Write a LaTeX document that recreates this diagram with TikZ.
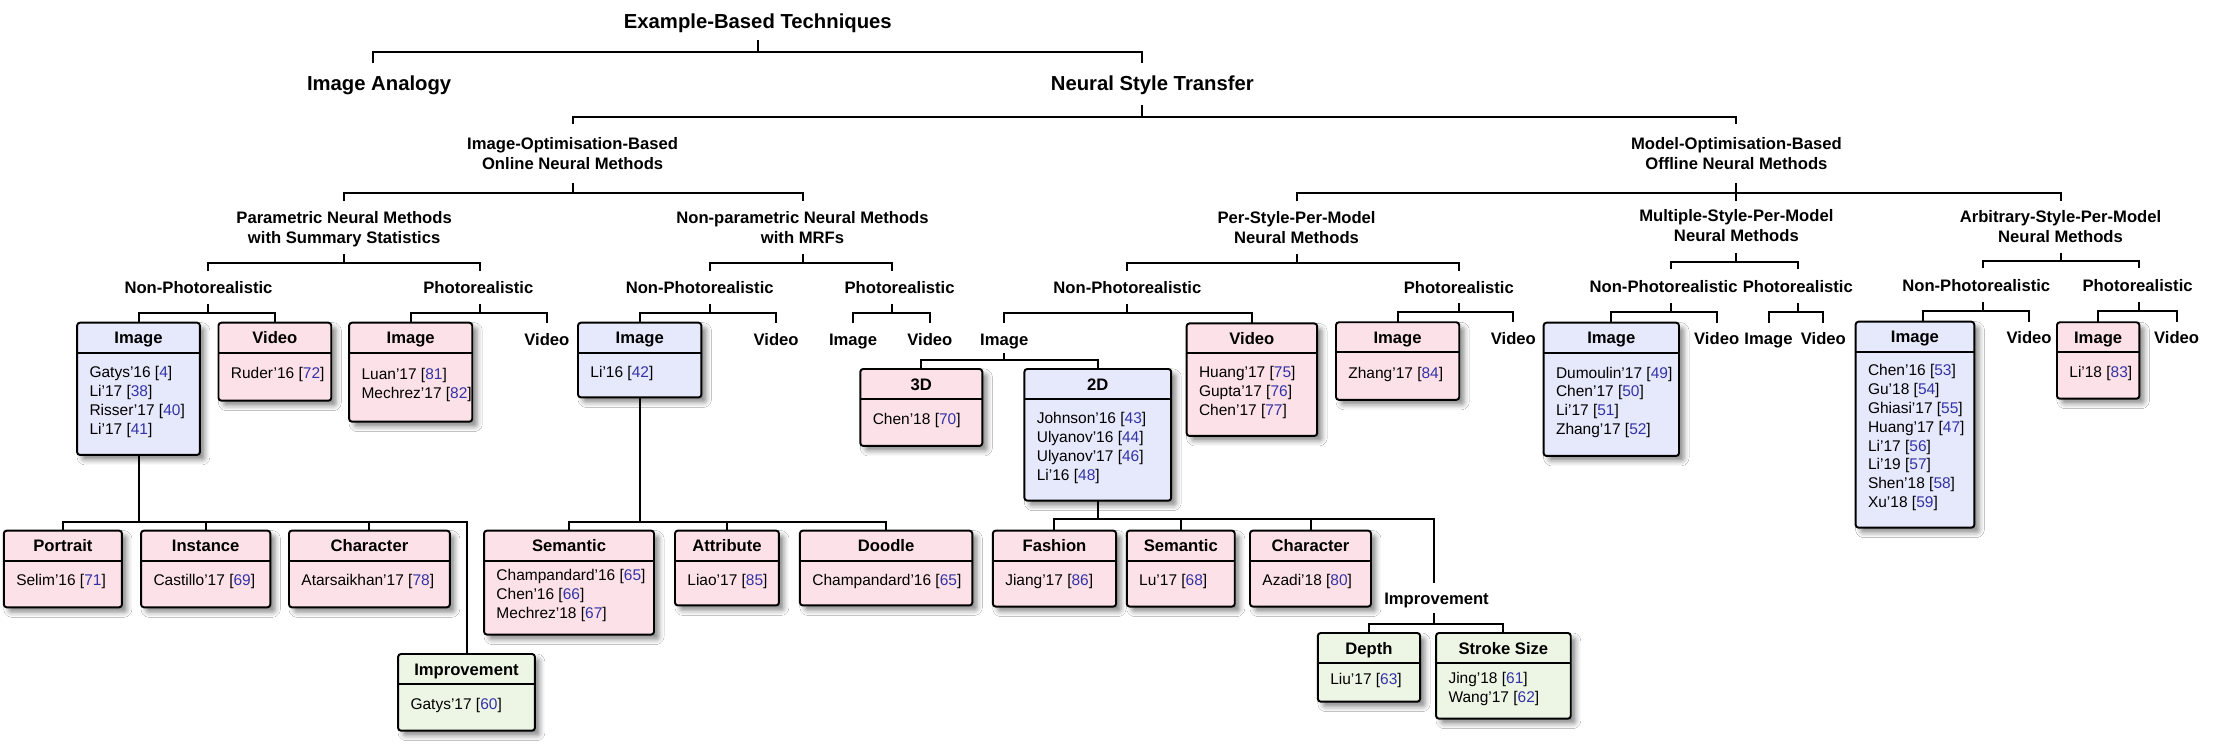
\documentclass[tikz,border=0pt]{standalone}
\usepackage{fontspec}
\setmainfont{Liberation Sans}
\usetikzlibrary{calc,shadows.blur}
\definecolor{bxblue}{RGB}{230,232,251}
\definecolor{bxpink}{RGB}{252,225,232}
\definecolor{bxgreen}{RGB}{237,246,228}
\definecolor{refblue}{RGB}{50,50,165}
\newcommand\rf[1]{\strut[\textcolor{refblue}{#1}]}
\newcommand\twol[2]{\strut #1\\\strut #2}
\newcommand\tbox[8]{%
  \pgfmathsetmacro\tbw{#4-(#2)}%
  \pgfmathsetmacro\tbh{#5-(#3)}%
  \node[tbx,fill=#6,minimum width=\tbw pt,minimum height=\tbh pt,anchor=north west] (#1) at (#2,#3) {};
  \draw[line width=1.35pt] ([yshift=-21pt]#1.north west) -- ([yshift=-21pt]#1.north east);
  \node[hdr] (#1h) at ([yshift=-14.8pt]#1.north) {#7};
  \node[bodytxt] (#1b) at ($([yshift=-21pt]#1.north west)!0.5!(#1.south west)+(8.5pt,1.25pt)$) {#8};
}
\begin{document}
\begin{tikzpicture}[x=1pt,y=-1pt,
  conn/.style={line width=1.4pt},
  big/.style={font=\bfseries\fontsize{14.2}{17}\selectfont, inner sep=0pt, anchor=base},
  lab/.style={font=\bfseries\fontsize{11.65}{14}\selectfont, align=center, inner sep=0pt},
  slab/.style={font=\bfseries\fontsize{11.65}{14}\selectfont, inner sep=0pt, anchor=base},
  tbx/.style={draw, line width=1.35pt, rounded corners=2pt, inner sep=0pt, outer sep=0pt,
    blur shadow={shadow xshift=3.5pt, shadow yshift=-3.5pt, shadow blur radius=3.5pt, shadow opacity=45}},
  hdr/.style={font=\bfseries\fontsize{11.65}{14}\selectfont, inner sep=0pt, anchor=base},
  bodytxt/.style={font=\fontsize{10.85}{13.2}\selectfont, align=left, inner sep=0pt, anchor=west}
]
\fill[white] (0,0) rectangle (1568,526);
\useasboundingbox (0,0) rectangle (1568,526);

% ---------- labels ----------
\node[big] (title) at (530.7,19.9) {Example-Based Techniques};
\node[big] (ia) at (265.5,63.4) {Image Analogy};
\node[big] (nst) at (807,63.4) {Neural Style Transfer};

\node[lab] (iob) at (401,108.8) {\twol{Image-Optimisation-Based}{Online Neural Methods}};
\node[lab] (mob) at (1216,108.8) {\twol{Model-Optimisation-Based}{Offline Neural Methods}};

\node[lab] (pnm) at (241,160.4) {\twol{Parametric Neural Methods}{with Summary Statistics}};
\node[lab] (npm) at (562,160.4) {\twol{Non-parametric Neural Methods}{with MRFs}};
\node[lab] (pspm) at (908,160.4) {\twol{Per-Style-Per-Model}{Neural Methods}};
\node[lab] (mspm) at (1216,159) {\twol{Multiple-Style-Per-Model}{Neural Methods}};
\node[lab] (aspm) at (1443,159.7) {\twol{Arbitrary-Style-Per-Model}{Neural Methods}};

\node[slab] (pnp) at (139,205.2) {Non-Photorealistic};
\node[slab] (pp) at (335,205.2) {Photorealistic};
\node[slab] (nnp) at (490,205.2) {Non-Photorealistic};
\node[slab] (np) at (630,205.2) {Photorealistic};
\node[slab] (psnp) at (789.5,205.2) {Non-Photorealistic};
\node[slab] (psp) at (1021.6,205.2) {Photorealistic};
\node[slab] (msnp) at (1165,204.5) {Non-Photorealistic};
\node[slab] (msp) at (1259,204.5) {Photorealistic};
\node[slab] (anp) at (1384,204) {Non-Photorealistic};
\node[slab] (ap) at (1497,204) {Photorealistic};

\node[slab] (pvidl) at (383,241.8) {Video};
\node[slab] (nvidl) at (543.5,241.8) {Video};
\node[slab] (npimgl) at (597.4,241.8) {Image};
\node[slab] (npvidl) at (651.2,241.8) {Video};
\node[slab] (psimgl) at (703.3,241.8) {Image};
\node[slab] (psvidl) at (1059.8,241.2) {Video};
\node[slab] (msvidl) at (1202.2,241.1) {Video};
\node[slab] (mspimgl) at (1238.5,241.1) {Image};
\node[slab] (mspvidl) at (1276.9,241.1) {Video};
\node[slab] (avidl) at (1421,240.4) {Video};
\node[slab] (apvidl) at (1524.3,240.4) {Video};
\node[slab] (impB) at (1006,423.2) {Improvement};

% ---------- boxes ----------
\tbox{pimg}{54}{226}{140}{318.6}{bxblue}{Image}{Gatys’16 \rf{4}\\Li’17 \rf{38}\\Risser’17 \rf{40}\\Li’17 \rf{41}}
\tbox{pvid}{153}{226}{232}{280.6}{bxpink}{Video}{Ruder’16 \rf{72}}
\tbox{ppimg}{244.5}{226}{330.7}{295.3}{bxpink}{Image}{Luan’17 \rf{81}\\Mechrez’17 \rf{82}}
\tbox{nimg}{404.8}{226}{491.2}{278.3}{bxblue}{Image}{Li’16 \rf{42}}
\tbox{portrait}{2.7}{371.6}{85.4}{425.3}{bxpink}{Portrait}{Selim’16 \rf{71}}
\tbox{instance}{98.8}{371.6}{189.3}{425.3}{bxpink}{Instance}{Castillo’17 \rf{69}}
\tbox{charA}{202.4}{371.6}{315}{425.3}{bxpink}{Character}{Atarsaikhan’17 \rf{78}}
\tbox{impA}{278.8}{458}{374.6}{511.7}{bxgreen}{Improvement}{Gatys’17 \rf{60}}
\tbox{semA}{339}{371.6}{458}{444.4}{bxpink}{Semantic}{Champandard’16 \rf{65}\\Chen’16 \rf{66}\\Mechrez’18 \rf{67}}
\tbox{attr}{472.7}{371.6}{545.5}{424}{bxpink}{Attribute}{Liao’17 \rf{85}}
\tbox{doodle}{560.2}{371.6}{680.9}{424}{bxpink}{Doodle}{Champandard’16 \rf{65}}
\tbox{dthree}{602.5}{258.4}{687.9}{312.3}{bxpink}{3D}{Chen’18 \rf{70}}
\tbox{dtwo}{717.4}{258.4}{820.2}{350.6}{bxblue}{2D}{Johnson’16 \rf{43}\\Ulyanov’16 \rf{44}\\Ulyanov’17 \rf{46}\\Li’16 \rf{48}}
\tbox{psvid}{831}{226.5}{922.4}{305.3}{bxpink}{Video}{Huang’17 \rf{75}\\Gupta’17 \rf{76}\\Chen’17 \rf{77}}
\tbox{psimg}{935.6}{225.7}{1021.9}{280}{bxpink}{Image}{Zhang’17 \rf{84}}
\tbox{fashion}{695.3}{371.6}{781.6}{424.8}{bxpink}{Fashion}{Jiang’17 \rf{86}}
\tbox{semB}{789.1}{371.6}{864.7}{424.8}{bxpink}{Semantic}{Lu’17 \rf{68}}
\tbox{charB}{875.4}{371.6}{960.1}{424.8}{bxpink}{Character}{Azadi’18 \rf{80}}
\tbox{depth}{922.9}{443.3}{994.5}{491.4}{bxgreen}{Depth}{Liu’17 \rf{63}}
\tbox{stroke}{1005.7}{443.3}{1100}{503.3}{bxgreen}{Stroke Size}{Jing’18 \rf{61}\\Wang’17 \rf{62}}
\tbox{msimg}{1081}{226}{1175.8}{319.3}{bxblue}{Image}{Dumoulin’17 \rf{49}\\Chen’17 \rf{50}\\Li’17 \rf{51}\\Zhang’17 \rf{52}}
\tbox{arbimg}{1299.5}{225.3}{1382.6}{369.5}{bxblue}{Image}{Chen’16 \rf{53}\\Gu’18 \rf{54}\\Ghiasi’17 \rf{55}\\Huang’17 \rf{47}\\Li’17 \rf{56}\\Li’19 \rf{57}\\Shen’18 \rf{58}\\Xu’18 \rf{59}}
\tbox{arbpimg}{1440.5}{225.7}{1498.2}{279.2}{bxpink}{Image}{Li’18 \rf{83}}

% ---------- connectors ----------
% top
\draw[conn] (title |- 0,28) -- (title |- 0,36.2);
\draw[conn] ([xshift=-4pt]ia |- 0,44) -- ([xshift=-4pt]ia |- 0,36.2) -- ([xshift=-7pt]nst |- 0,36.2) -- ([xshift=-7pt]nst |- 0,44);
\draw[conn] ([xshift=-7pt]nst |- 0,73.5) -- ([xshift=-7pt]nst |- 0,81.7);
\draw[conn] (iob |- 0,87) -- (iob |- 0,81.7) -- (mob |- 0,81.7) -- (mob |- 0,87);
% level 2
\draw[conn] (iob |- 0,128) -- (iob |- 0,135.4);
\draw[conn] (pnm |- 0,141) -- (pnm |- 0,135.4) -- (npm |- 0,135.4) -- (npm |- 0,141);
\draw[conn] (mob |- 0,128) -- (mob |- 0,141);
\draw[conn] (pspm |- 0,141) -- (pspm |- 0,135.4) -- (aspm |- 0,135.4) -- (aspm |- 0,141);
% level 3
\draw[conn] (pnm |- 0,177.8) -- (pnm |- 0,184.4);
\draw[conn] ([xshift=7pt]pnp |- 0,189.5) -- ([xshift=7pt]pnp |- 0,184.4) -- ([xshift=1pt]pp |- 0,184.4) -- ([xshift=1pt]pp |- 0,189.5);
\draw[conn] (npm |- 0,177.8) -- (npm |- 0,184.4);
\draw[conn] ([xshift=7pt]nnp |- 0,189.5) -- ([xshift=7pt]nnp |- 0,184.4) -- ([xshift=-5.4pt]np |- 0,184.4) -- ([xshift=-5.4pt]np |- 0,189.5);
\draw[conn] (pspm |- 0,177.8) -- (pspm |- 0,184.4);
\draw[conn] (psnp |- 0,189.5) -- (psnp |- 0,184.4) -- (psp |- 0,184.4) -- (psp |- 0,189.5);
\draw[conn] (mspm |- 0,177) -- (mspm |- 0,183.2);
\draw[conn] ([xshift=5pt]msnp |- 0,188.5) -- ([xshift=5pt]msnp |- 0,183.2) -- (msp |- 0,183.2) -- (msp |- 0,188.5);
\draw[conn] (aspm |- 0,177) -- (aspm |- 0,182.5);
\draw[conn] ([xshift=5pt]anp |- 0,188) -- ([xshift=5pt]anp |- 0,182.5) -- ([xshift=1pt]ap |- 0,182.5) -- ([xshift=1pt]ap |- 0,188);
% level 4
\draw[conn] ([xshift=7pt]pnp |- 0,212.9) -- ([xshift=7pt]pnp |- 0,219);
\draw[conn] (pimg.north) -- (pimg |- 0,219) -- (pvid |- 0,219) -- (pvid.north);
\draw[conn] ([xshift=1pt]pp |- 0,212.9) -- ([xshift=1pt]pp |- 0,219);
\draw[conn] (ppimg.north) -- (ppimg |- 0,219) -- (pvidl |- 0,219) -- (pvidl |- 0,226);
\draw[conn] ([xshift=7pt]nnp |- 0,212.9) -- ([xshift=7pt]nnp |- 0,219);
\draw[conn] (nimg.north) -- (nimg |- 0,219) -- (nvidl |- 0,219) -- (nvidl |- 0,226);
\draw[conn] ([xshift=-5.4pt]np |- 0,212.9) -- ([xshift=-5.4pt]np |- 0,219);
\draw[conn] (npimgl |- 0,226) -- (npimgl |- 0,219) -- (npvidl |- 0,219) -- (npvidl |- 0,226);
\draw[conn] (psnp |- 0,212.9) -- (psnp |- 0,219);
\draw[conn] (psimgl |- 0,226) -- (psimgl |- 0,219) -- (psvid |- 0,219) -- (psvid.north);
\draw[conn] (psp |- 0,212.3) -- (psp |- 0,218.3);
\draw[conn] (psimg.north) -- (psimg |- 0,218.3) -- (psvidl |- 0,218.3) -- (psvidl |- 0,225.7);
\draw[conn] ([xshift=5pt]msnp |- 0,212.4) -- ([xshift=5pt]msnp |- 0,218.5);
\draw[conn] (msimg.north) -- (msimg |- 0,218.5) -- (msvidl |- 0,218.5) -- (msvidl |- 0,226);
\draw[conn] (msp |- 0,212.4) -- (msp |- 0,218.5);
\draw[conn] (mspimgl |- 0,226) -- (mspimgl |- 0,218.5) -- (mspvidl |- 0,218.5) -- (mspvidl |- 0,226);
\draw[conn] ([xshift=5pt]anp |- 0,211.5) -- ([xshift=5pt]anp |- 0,217.5);
\draw[conn] ([xshift=5.5pt]arbimg.north) -- ([xshift=5.5pt]arbimg |- 0,217.5) -- (avidl |- 0,217.5) -- (avidl |- 0,225.3);
\draw[conn] ([xshift=1pt]ap |- 0,211.5) -- ([xshift=1pt]ap |- 0,217.5);
\draw[conn] (arbpimg.north) -- (arbpimg |- 0,217.5) -- (apvidl |- 0,217.5) -- (apvidl |- 0,225.3);
% image -> 3D / 2D
\draw[conn] (psimgl |- 0,247.4) -- (psimgl |- 0,252);
\draw[conn] (dthree.north) -- (dthree |- 0,252) -- (dtwo |- 0,252) -- (dtwo.north);
% lower parametric
\draw[conn] (pimg.south) -- (pimg |- 0,365.3);
\draw[conn] (portrait.north) -- (portrait |- 0,365.3) -- (impA |- 0,365.3) -- (impA.north);
\draw[conn] (instance |- 0,365.3) -- (instance.north);
\draw[conn] (charA |- 0,365.3) -- (charA.north);
% lower non-parametric
\draw[conn] (nimg.south) -- (nimg |- 0,365.5);
\draw[conn] (semA.north) -- (semA |- 0,365.5) -- (doodle |- 0,365.5) -- (doodle.north);
\draw[conn] (attr |- 0,365.5) -- (attr.north);
% lower 2D
\draw[conn] (dtwo.south) -- (dtwo |- 0,363.2);
\draw[conn] (fashion.north) -- (fashion |- 0,363.2) -- ([xshift=-2pt]impB |- 0,363.2) -- ([xshift=-2pt]impB |- 0,408);
\draw[conn] (semB |- 0,363.2) -- (semB.north);
\draw[conn] (charB |- 0,363.2) -- (charB.north);
\draw[conn] ([xshift=-2pt]impB |- 0,429.5) -- ([xshift=-2pt]impB |- 0,437);
\draw[conn] (depth.north) -- (depth |- 0,437) -- (stroke |- 0,437) -- (stroke.north);
\end{tikzpicture}
\end{document}
